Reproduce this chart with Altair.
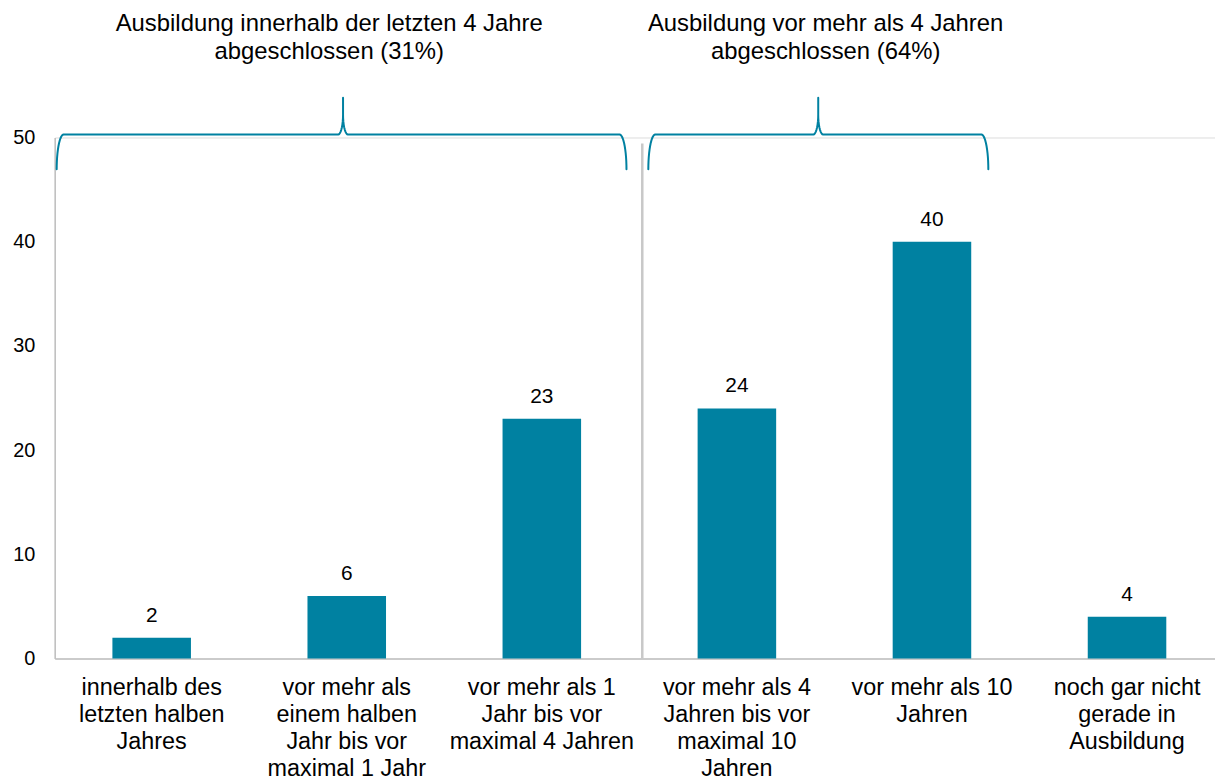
import altair as alt
import numpy as np
import pandas as pd

# ---- data ----
categories = [
    "innerhalb des\nletzten halben\nJahres",
    "vor mehr als\neinem halben\nJahr bis vor\nmaximal 1 Jahr",
    "vor mehr als 1\nJahr bis vor\nmaximal 4 Jahren",
    "vor mehr als 4\nJahren bis vor\nmaximal 10\nJahren",
    "vor mehr als 10\nJahren",
    "noch gar nicht\ngerade in\nAusbildung",
]
values = [2, 6, 23, 24, 40, 4]

group_titles = [
    "Ausbildung innerhalb der letzten 4 Jahre\nabgeschlossen (31%)",
    "Ausbildung vor mehr als 4 Jahren\nabgeschlossen (64%)",
]
# group spans in category-index units
brace_start = [-0.487, 2.546]
brace_end = [2.434, 4.289]
brace_tip = [0.981, 3.417]
title_pos = [0.910, 3.455]
separator_pos = [2.515]

y_ticks = [0, 10, 20, 30, 40, 50]

# ---- styling ----
BAR = "#0081A1"
FONT = "Liberation Sans"
W, H = 1167, 524
X_DOMAIN = [-0.497, 5.451]
Y_DOMAIN = [0, 50]
px_x = W / (X_DOMAIN[1] - X_DOMAIN[0])
px_y = H / (Y_DOMAIN[1] - Y_DOMAIN[0])

bars_df = pd.DataFrame({"i": list(range(len(categories))), "cat": categories, "v": values})


def brace_points(x0, x1, xc, gid):
    yb, yh, yt = 50 - 32 / px_y, 50 + 3 / px_y, 50 + 40 / px_y
    rx, ry = 7 / px_x, yh - yb
    rxt, ryt = 5 / px_x, 20 / px_y
    pts = []
    for t in np.linspace(np.pi, np.pi / 2, 14):
        pts.append((x0 + rx + rx * np.cos(t), yb + ry * np.sin(t)))
    for t in np.linspace(-np.pi / 2, 0, 10):
        pts.append((xc - rxt + rxt * np.cos(t), yh + ryt + ryt * np.sin(t)))
    pts.append((xc, yt))
    for t in np.linspace(np.pi, 1.5 * np.pi, 10):
        pts.append((xc + rxt + rxt * np.cos(t), yh + ryt + ryt * np.sin(t)))
    for t in np.linspace(np.pi / 2, 0, 14):
        pts.append((x1 - rx + rx * np.cos(t), yb + ry * np.sin(t)))
    return [{"g": gid, "k": k, "x": p[0], "y": p[1]} for k, p in enumerate(pts)]


brace_rows = []
for gi in range(len(group_titles)):
    brace_rows += brace_points(brace_start[gi], brace_end[gi], brace_tip[gi], gi)
brace_df = pd.DataFrame(brace_rows)

titles_df = pd.DataFrame({"x": title_pos, "t": group_titles})
sep_df = pd.DataFrame({"x": separator_pos})

xscale = alt.Scale(domain=X_DOMAIN, nice=False, zero=False, padding=0)
yscale = alt.Scale(domain=Y_DOMAIN, nice=False, padding=0)

x_enc = alt.X(
    "i:Q",
    scale=xscale,
    axis=alt.Axis(labels=False, ticks=False, grid=False, title=None,
                  domainColor="#bfbfbf", domainWidth=1.5),
)
y_enc = alt.Y(
    "v:Q",
    scale=yscale,
    axis=alt.Axis(values=y_ticks, ticks=False, grid=False, title=None,
                  domainColor="#bfbfbf", domainWidth=1.5, labelFont=FONT,
                  labelFontSize=20, labelColor="#000000", labelPadding=20),
)

bars = alt.Chart(bars_df).mark_bar(color=BAR, size=79).encode(x=x_enc, y=y_enc)

bar_labels = alt.Chart(bars_df).mark_text(
    font=FONT, fontSize=21, color="#000000", baseline="alphabetic", dy=-16
).encode(x=alt.X("i:Q", scale=xscale), y=alt.Y("v:Q", scale=yscale), text="v:Q")

cat_labels = alt.Chart(bars_df).mark_text(
    font=FONT, fontSize=23.5, color="#000000", baseline="alphabetic",
    lineBreak="\n", lineHeight=27, dy=37
).encode(x=alt.X("i:Q", scale=xscale), y=alt.datum(0, scale=yscale), text="cat:N")

separator = alt.Chart(sep_df).mark_rule(color="#c8c8c8", strokeWidth=2.5).encode(
    x=alt.X("x:Q", scale=xscale), y=alt.datum(0), y2=alt.datum(50 - 6 / px_y)
)

braces = alt.Chart(brace_df).mark_line(color=BAR, strokeWidth=2, strokeCap="round",
                                       strokeJoin="round").encode(
    x=alt.X("x:Q", scale=xscale),
    y=alt.Y("y:Q", scale=yscale),
    detail="g:N",
    order="k:Q",
)

titles = alt.Chart(titles_df).mark_text(
    font=FONT, fontSize=24, color="#000000", baseline="alphabetic",
    lineBreak="\n", lineHeight=28, dy=-107
).encode(x=alt.X("x:Q", scale=xscale), y=alt.datum(50, scale=yscale), text="t:N")

chart = alt.layer(separator, bars, bar_labels, cat_labels, braces, titles).properties(
    width=W, height=H,
    autosize=alt.AutoSizeParams(type="none"),
    padding={"left": 47, "top": 128, "right": 0, "bottom": 122},
).configure_view(stroke=None).configure(background="#ffffff")

chart.save("out.html", embed_options={"renderer": "svg", "actions": False})
